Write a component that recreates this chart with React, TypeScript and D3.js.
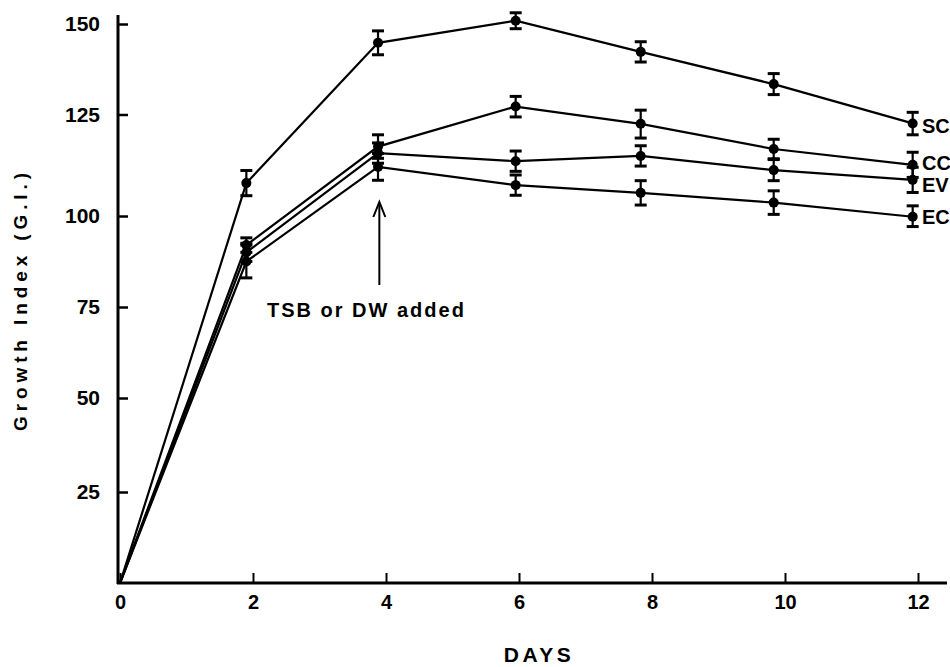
import * as d3 from 'd3'
import { useEffect, useRef } from 'react'

// days as plotted (points sit a little left of the tick marks)
const days = [0, 1.9, 3.88, 5.95, 7.83, 9.83, 11.92]

const seriesNames = ['SC', 'CC', 'EV', 'EC']
const scValues = [0, 108.1, 144.8, 150.9, 142.3, 133.4, 122.8]
const scErrors = [0, 3.1, 3.3, 2.2, 2.8, 2.9, 2.8]
const ccValues = [0, 92, 117.1, 127.2, 122.7, 116.5, 112.6]
const ccErrors = [0, 2, 2.9, 2.8, 3.5, 2.4, 3.1]
const evValues = [0, 90, 115.5, 113.5, 114.8, 111.3, 108.9]
const evErrors = [0, 2.5, 2.5, 2.5, 2.5, 2.6, 3.1]
const ecValues = [0, 87.5, 112.1, 107.6, 105.7, 103.3, 99.8]
const ecErrors = [0, 4.5, 3.3, 2.5, 3.0, 2.9, 2.7]

const xTicks = [0, 2, 4, 6, 8, 10, 12]
const yTicks = [25, 50, 75, 100, 125, 150]
const yLevels = [0, 25, 50, 75, 100, 125, 150]

const FONT = '"Liberation Sans", Arial, sans-serif'

export default function App() {
  const ref = useRef<SVGSVGElement>(null)

  useEffect(() => {
    const svg = d3.select(ref.current)
    svg.selectAll('*').remove()

    const x = d3.scaleLinear().domain([0, 12]).range([120, 918])
    // the hand-drawn axis is not quite even, follow its tick marks
    const y = d3
      .scaleLinear()
      .domain(yLevels)
      .range([583, 492, 398, 307, 216, 114.5, 24])

    const series = [
      { name: seriesNames[0], values: scValues, errors: scErrors, dy: 2.5 },
      { name: seriesNames[1], values: ccValues, errors: ccErrors, dy: -2 },
      { name: seriesNames[2], values: evValues, errors: evErrors, dy: 5 },
      { name: seriesNames[3], values: ecValues, errors: ecErrors, dy: 0 },
    ]

    // y axis
    const yAxis = d3
      .axisLeft(y)
      .tickValues(yTicks)
      .tickSizeInner(-10)
      .tickSizeOuter(0)
      .tickPadding(18)
    const gy = svg.append('g').attr('transform', 'translate(118,0)').call(yAxis)
    gy.select('.domain').remove()
    gy.selectAll('line').attr('stroke', '#000').attr('stroke-width', 2.5)
    gy.selectAll('text')
      .attr('font-family', FONT)
      .attr('font-weight', 'bold')
      .attr('font-size', 21)
      .attr('fill', '#000')
    svg
      .append('line')
      .attr('x1', 118)
      .attr('x2', 118)
      .attr('y1', 15)
      .attr('y2', 584)
      .attr('stroke', '#000')
      .attr('stroke-width', 3)

    // x axis
    const xAxis = d3
      .axisBottom(x)
      .tickValues(xTicks)
      .tickSizeInner(-10)
      .tickSizeOuter(0)
      .tickPadding(12)
    const gx = svg.append('g').attr('transform', 'translate(0,583)').call(xAxis)
    gx.select('.domain').remove()
    gx.selectAll('line').attr('stroke', '#000').attr('stroke-width', 2)
    gx.selectAll('text')
      .attr('font-family', FONT)
      .attr('font-weight', 'bold')
      .attr('font-size', 20)
      .attr('fill', '#000')
    svg
      .append('line')
      .attr('x1', 117)
      .attr('x2', 947)
      .attr('y1', 583)
      .attr('y2', 583)
      .attr('stroke', '#000')
      .attr('stroke-width', 3)

    // axis titles
    svg
      .append('text')
      .attr('transform', 'translate(27,302) rotate(-90)')
      .attr('text-anchor', 'middle')
      .attr('font-family', FONT)
      .attr('font-weight', 'bold')
      .attr('font-size', 19)
      .attr('textLength', 258)
      .attr('lengthAdjust', 'spacing')
      .text('Growth Index (G.I.)')

    svg
      .append('text')
      .attr('x', 539)
      .attr('y', 662)
      .attr('text-anchor', 'middle')
      .attr('font-family', FONT)
      .attr('font-weight', 'bold')
      .attr('font-size', 21)
      .attr('letter-spacing', 3.5)
      .text('DAYS')

    // lines
    const line = d3
      .line<number>()
      .x((d, i) => x(days[i]))
      .y((d) => y(d))

    series.forEach((s) => {
      svg
        .append('path')
        .datum(s.values)
        .attr('d', line)
        .attr('fill', 'none')
        .attr('stroke', '#000')
        .attr('stroke-width', 2.2)
    })

    // error bars and points
    series.forEach((s) => {
      const g = svg.append('g')
      s.values.forEach((v, i) => {
        if (i === 0) return
        const cx = x(days[i])
        const top = y(v + s.errors[i])
        const bot = y(v - s.errors[i])
        g.append('line')
          .attr('x1', cx)
          .attr('x2', cx)
          .attr('y1', top)
          .attr('y2', bot)
          .attr('stroke', '#000')
          .attr('stroke-width', 2.2)
        ;[top, bot].forEach((cy) => {
          g.append('line')
            .attr('x1', cx - 6)
            .attr('x2', cx + 6)
            .attr('y1', cy)
            .attr('y2', cy)
            .attr('stroke', '#000')
            .attr('stroke-width', 3)
        })
        g.append('circle')
          .attr('cx', cx)
          .attr('cy', y(v))
          .attr('r', 5)
          .attr('fill', '#000')
      })
    })

    // series labels at the right end
    series.forEach((s) => {
      const last = s.values.length - 1
      svg
        .append('text')
        .attr('x', 922)
        .attr('y', y(s.values[last]) + s.dy)
        .attr('dominant-baseline', 'central')
        .attr('font-family', FONT)
        .attr('font-weight', 'bold')
        .attr('font-size', 20)
        .text(s.name)
    })

    // annotation
    const ax = x(3.9)
    svg
      .append('line')
      .attr('x1', ax)
      .attr('x2', ax)
      .attr('y1', 285)
      .attr('y2', 203)
      .attr('stroke', '#000')
      .attr('stroke-width', 2)
    svg
      .append('path')
      .attr('d', `M${ax - 6},217 L${ax},202 L${ax + 6},217`)
      .attr('fill', 'none')
      .attr('stroke', '#000')
      .attr('stroke-width', 2)
    svg
      .append('text')
      .attr('x', 267)
      .attr('y', 317)
      .attr('font-family', FONT)
      .attr('font-weight', 'bold')
      .attr('font-size', 20)
      .attr('letter-spacing', 2)
      .text('TSB or DW added')
  }, [])

  return (
    <svg
      ref={ref}
      width={950}
      height={667}
      style={{ position: 'absolute', left: 0, top: 0, background: '#fff' }}
    />
  )
}
